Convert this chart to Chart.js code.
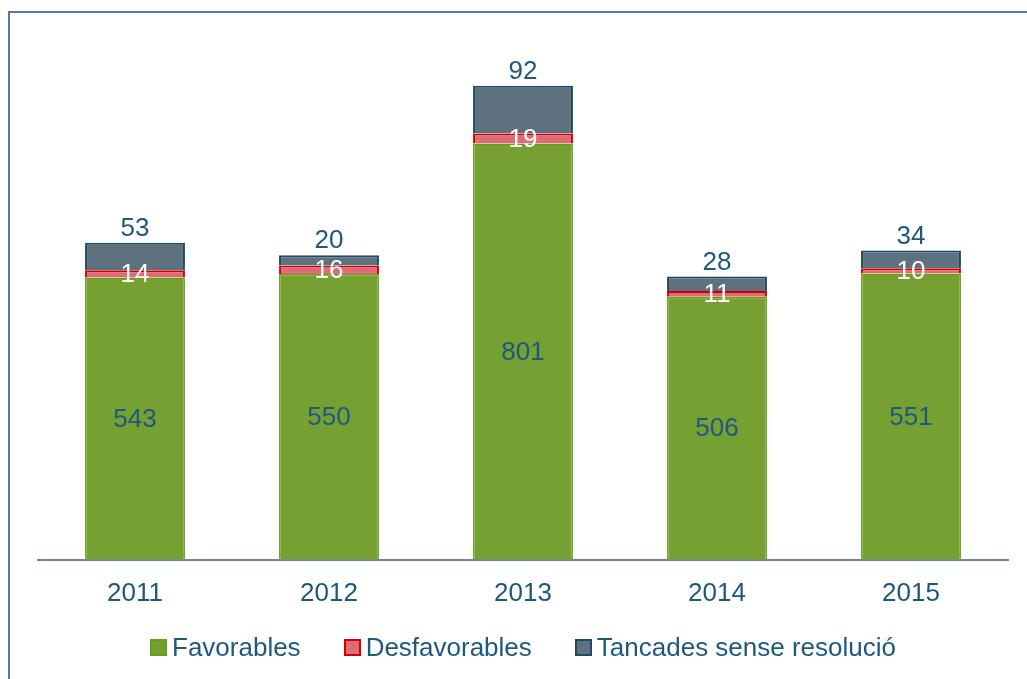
<!DOCTYPE html>
<html>
<head>
  <title>Resolucions</title>
  <script src="https://cdn.jsdelivr.net/npm/chart.js"></script>
  <style>
    body { margin: 0; background: #fff; font-family: "Liberation Sans", Arial, sans-serif; }
    #frame {
      position: absolute; left: 8px; top: 11px; width: 1030px; height: 680px;
      border-left: 2px solid #5877a3; border-top: 2px solid #5877a3;
    }
    #chartContainer { position: absolute; left: 0; top: 0; width: 1027px; height: 679px; }
    #legend {
      position: absolute; left: 150px; top: 630px; height: 34px;
      display: flex; align-items: center; gap: 43px;
      color: #1d5880; font-size: 26px; white-space: nowrap;
    }
    .item { display: flex; align-items: center; }
    .box { width: 13px; height: 13px; border: 2px solid; margin-right: 5px; }
  </style>
</head>
<body>
<div id="frame"></div>
<div id="chartContainer">
  <canvas id="resChart"></canvas>
</div>
<div id="legend"></div>

<script>
  const years = ['2011', '2012', '2013', '2014', '2015'];
  const favorables = [543, 550, 801, 506, 551];
  const desfavorables = [14, 16, 19, 11, 10];
  const tancades = [53, 20, 92, 28, 34];

  const textColor = '#1d5880';
  const fontFamily = '"Liberation Sans", Arial, sans-serif';

  // value labels: inside for the first two series, above the bar for the last
  const labelPlugin = {
    id: 'barLabels',
    afterDatasetsDraw(chart) {
      const ctx = chart.ctx;
      ctx.save();
      ctx.font = '26px ' + fontFamily;
      ctx.textAlign = 'center';
      ctx.textBaseline = 'middle';
      chart.data.datasets.forEach((ds, i) => {
        const meta = chart.getDatasetMeta(i);
        meta.data.forEach((bar, j) => {
          let y = (bar.y + bar.base) / 2;
          if (i === 2) y = bar.y - 15;
          ctx.fillStyle = i === 1 ? '#ffffff' : textColor;
          ctx.fillText(ds.data[j], bar.x, y + 1);
        });
      });
      ctx.restore();
    }
  };

  const ctx = document.getElementById('resChart').getContext('2d');
  const chart = new Chart(ctx, {
    type: 'bar',
    data: {
      labels: years,
      datasets: [
        {
          label: 'Favorables',
          data: favorables,
          backgroundColor: '#77a033',
          borderColor: '#64a019',
          borderWidth: 1.5
        },
        {
          label: 'Desfavorables',
          data: desfavorables,
          backgroundColor: '#df6b74',
          borderColor: '#d00000',
          borderWidth: 2
        },
        {
          label: 'Tancades sense resolució',
          data: tancades,
          backgroundColor: '#5d727e',
          borderColor: '#204a64',
          borderWidth: 2
        }
      ]
    },
    options: {
      responsive: true,
      maintainAspectRatio: false,
      animation: false,
      layout: { padding: { left: 38, right: 19, top: 40, bottom: 52 } },
      datasets: { bar: { categoryPercentage: 1, barPercentage: 0.515 } },
      scales: {
        x: {
          stacked: true,
          grid: { display: false, drawTicks: false },
          border: { display: true, color: '#6f87a6', width: 2 },
          ticks: { color: textColor, font: { family: fontFamily, size: 26 }, padding: 18 }
        },
        y: {
          stacked: true,
          display: false,
          min: 0,
          max: 1000
        }
      },
      plugins: {
        legend: { display: false },
        tooltip: { enabled: false }
      }
    },
    plugins: [labelPlugin]
  });

  // legend built from the datasets
  const legend = document.getElementById('legend');
  chart.data.datasets.forEach(ds => {
    const item = document.createElement('div');
    item.className = 'item';
    item.innerHTML = `<span class="box" style="background:${ds.backgroundColor};border-color:${ds.borderColor}"></span>${ds.label}`;
    legend.appendChild(item);
  });
</script>
</body>
</html>
